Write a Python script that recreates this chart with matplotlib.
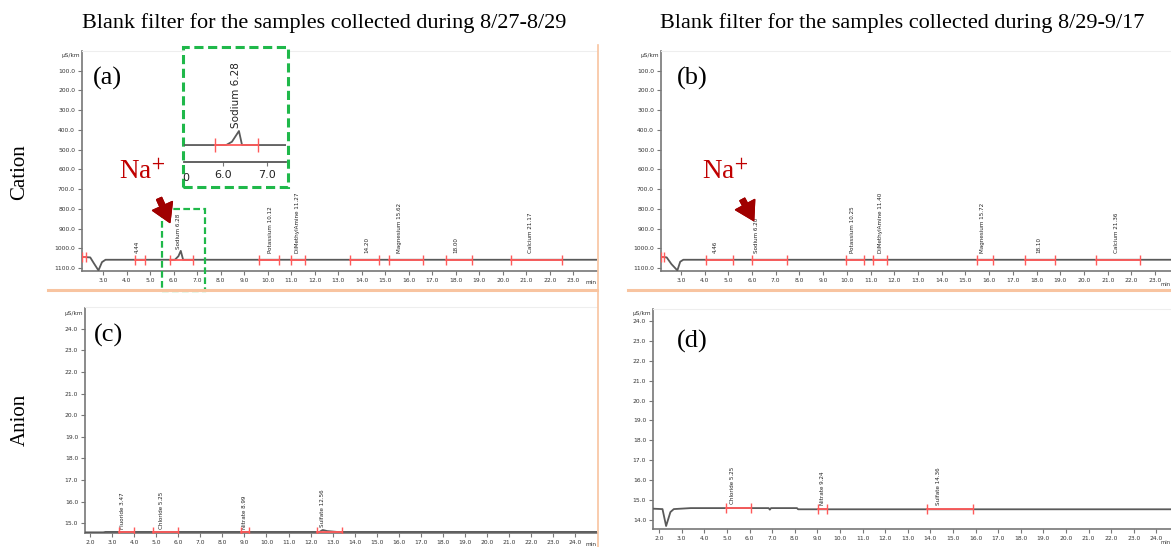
import matplotlib.pyplot as plt
import numpy as np
from matplotlib.patches import Rectangle
from matplotlib.lines import Line2D

W, H = 1171, 547

# ---- data ----
titles = ['Blank filter for the samples collected during 8/27-8/29',
          'Blank filter for the samples collected during 8/29-9/17']

# (a) cation 8/27-8/29
a_time = [2.1, 2.45, 2.6, 2.8, 2.95, 3.1, 6.05, 6.2, 6.3, 6.4, 24.0]
a_signal = [1044, 1046, 1075, 1112, 1070, 1058, 1058, 1040, 1013, 1058, 1058]
a_peaks = ['4.44', 'Sodium 6.28', 'Potassium 10.12', 'DiMethylAmine 11.27',
           '14.20', 'Magnesium 15.62', '18.00', 'Calcium 21.17']
a_peak_time = [4.44, 6.2, 10.12, 11.27, 14.20, 15.62, 18.00, 21.17]
a_seg_start = [2.1, 4.36, 5.85, 9.62, 10.98, 13.49, 15.14, 17.56, 20.33]
a_seg_end = [2.27, 4.78, 6.82, 10.47, 11.58, 14.72, 16.59, 18.67, 22.5]

# (b) cation 8/29-9/17
b_time = [2.16, 2.4, 2.6, 2.85, 2.97, 3.1, 23.7]
b_signal = [1044, 1046, 1080, 1112, 1068, 1058, 1058]
b_peaks = ['4.46', 'Sodium 6.20', 'Potassium 10.25', 'DiMethylAmine 11.40',
           'Magnesium 15.72', '18.10', 'Calcium 21.36']
b_peak_time = [4.46, 6.20, 10.25, 11.40, 15.72, 18.10, 21.36]
b_seg_start = [2.16, 4.05, 6.0, 9.96, 11.1, 15.5, 17.5, 20.5]
b_seg_end = [2.3, 5.2, 7.47, 10.72, 11.69, 16.17, 18.78, 22.37]

# (c) anion 8/27-8/29
c_time = [1.77, 2.6, 2.7, 12.4, 12.55, 12.75, 13.2, 25.0]
c_signal = [14.57, 14.57, 14.59, 14.59, 14.68, 14.63, 14.59, 14.59]
c_peaks = ['Fluoride 3.47', 'Chloride 5.25', 'Nitrate 8.99', 'Sulfate 12.56']
c_peak_time = [3.47, 5.25, 8.99, 12.56]
c_seg_start = [3.31, 4.86, 8.85, 12.3]
c_seg_end = [4.0, 6.0, 9.2, 13.43]

# (d) anion 8/29-9/17
d_time = [1.73, 2.15, 2.31, 2.5, 2.65, 3.4, 6.85, 6.9, 6.95, 8.1, 8.15, 24.65]
d_signal = [14.57, 14.55, 13.7, 14.4, 14.55, 14.6, 14.6, 14.52, 14.6, 14.6, 14.54, 14.54]
d_peaks = ['Chloride 5.25', 'Nitrate 9.24', 'Sulfate 14.36']
d_peak_time = [5.25, 9.24, 14.36]
d_seg_start = [4.97, 9.03, 13.85]
d_seg_end = [6.07, 9.43, 15.9]

# zoomed sodium peak (inset of panel a)
inset_time = [5.11, 6.07, 6.2, 6.36, 6.43, 7.43]
inset_signal = [1055, 1055, 1045, 1012, 1055, 1055]

plt.rcParams['mathtext.fontset'] = 'stix'
fig = plt.figure(figsize=(W / 100, H / 100), dpi=100)
serif = 'Liberation Serif'
trace_col = '#5a5a5a'
red = '#ff5a5a'
axis_col = '#777777'
green = '#1fb84a'
orange = '#f8c4a0'


def px_axes(l, t, r, b):
    return fig.add_axes([l / W, 1 - b / H, (r - l) / W, (b - t) / H])


def ftext(x, y, s, **kw):
    return fig.text(x / W, 1 - y / H, s, **kw)


def chrom(ax, time, signal, xlim, ylim, xticks, yticks, peaks, peak_time,
          seg_start, seg_end, lab_off):
    ax.plot(time, signal, color=trace_col, lw=1.3, zorder=3)
    for s, e in zip(seg_start, seg_end):
        ys = np.interp([s, e], time, signal)
        ax.plot([s, e], ys, color=red, lw=1.3, zorder=4)
        ax.plot([s, e], ys, ls='none', marker='|', ms=7, mew=1.0, color=red, zorder=4)
    for name, t in zip(peaks, peak_time):
        yb = np.interp(t, time, signal)
        ax.annotate(name, (t, yb), xytext=(0, lab_off), textcoords='offset points',
                    rotation=90, ha='center', va='bottom', fontsize=4.1, color='#222222')
    ax.set_xlim(*xlim)
    ax.set_ylim(*ylim)
    ax.set_xticks(xticks)
    ax.set_xticklabels([f'{v:.1f}' for v in xticks])
    ax.set_yticks(yticks)
    ax.set_yticklabels([f'{v:.1f}' for v in yticks])
    ax.tick_params(labelsize=4.3, labelcolor='#333333', color=axis_col,
                   length=3, width=0.8, pad=2)
    for sp in ['top', 'right']:
        ax.spines[sp].set_visible(False)
    for sp in ['left', 'bottom']:
        ax.spines[sp].set_color(axis_col)
        ax.spines[sp].set_linewidth(1.2)
    ax.patch.set_alpha(0)


cat_ticks_y = [100, 200, 300, 400, 500, 600, 700, 800, 900, 1000, 1100]

ax_a = px_axes(82, 51, 597, 271)
chrom(ax_a, a_time, a_signal, (2.1, 24.0), (1115, 0), list(range(3, 24)),
      cat_ticks_y, a_peaks, a_peak_time, a_seg_start, a_seg_end, 5)

ax_b = px_axes(661, 51, 1171, 271)
chrom(ax_b, b_time, b_signal, (2.16, 23.67), (1115, 0), list(range(3, 24)),
      cat_ticks_y, b_peaks, b_peak_time, b_seg_start, b_seg_end, 5)

ax_c = px_axes(85, 308, 597, 533)
chrom(ax_c, c_time, c_signal, (1.77, 24.99), (14.54, 24.97), list(range(2, 25)),
      list(range(15, 25)), c_peaks, c_peak_time, c_seg_start, c_seg_end, 2)

ax_d = px_axes(653, 309, 1171, 529)
chrom(ax_d, d_time, d_signal, (1.73, 24.65), (13.55, 24.6), list(range(2, 25)),
      list(range(14, 25)), d_peaks, d_peak_time, d_seg_start, d_seg_end, 3)

# unit labels
for (x, y) in [(80, 56), (659, 56), (83, 313), (651, 314)]:
    ftext(x, y, 'µS/km', fontsize=4.2, color='#333333', ha='right', va='center')
for (x, y, fs) in [(597, 282, 4.2), (1171, 285, 3.8), (597, 544, 4.2), (1171, 543, 3.8)]:
    ftext(x, y, 'min', fontsize=fs, color='#333333', ha='right', va='center')

# faint top lines of the instrument windows
for (l, r, y) in [(82, 597, 51), (661, 1171, 51), (85, 597, 307), (653, 1171, 309)]:
    fig.add_artist(Line2D([l / W, r / W], [1 - y / H, 1 - y / H], color='#eeeeee', lw=0.8))

# orange window borders
for (l, r, y) in [(48, 597, 290), (628, 1171, 290)]:
    fig.add_artist(Line2D([l / W, r / W], [1 - y / H, 1 - y / H], color=orange, lw=2.2))
fig.add_artist(Line2D([598 / W, 598 / W], [1 - 45 / H, 0], color=orange, lw=1.2))

# panel letters
for (x, y, s) in [(93, 78, '(a)'), (677, 78, '(b)'), (94, 335, '(c)'), (677, 341, '(d)')]:
    ftext(x, y, s, fontsize=19, family=serif, ha='left', va='center')

# titles and row labels
ftext(324, 23, titles[0], fontsize=16, family=serif, ha='center', va='center')
ftext(902, 23, titles[1], fontsize=16, family=serif, ha='center', va='center')
ftext(20, 172, 'Cation', fontsize=15, family=serif, rotation=90, ha='center', va='center')
ftext(20, 420, 'Anion', fontsize=15, family=serif, rotation=90, ha='center', va='center')

# Na+ annotations
for (tx, ty, x0, y0, x1, y1) in [(142, 172, 158, 196, 171, 225), (725, 172, 741, 197, 755, 223)]:
    ftext(tx, ty, 'Na$^{+}$', fontsize=19.5, family=serif, color='#c00000',
          ha='center', va='center')
    fig.add_artist(plt.annotate('', xy=(x1, H - y1), xytext=(x0, H - y0),
                                xycoords='figure pixels', textcoords='figure pixels',
                                arrowprops=dict(arrowstyle='simple,head_width=1.2,head_length=1.0,tail_width=0.3',
                                                color='#a00000', mutation_scale=13)))

# dashed box round the sodium peak in (a)
fig.add_artist(Rectangle((162 / W, 1 - 291 / H), 43 / W, 82 / H, transform=fig.transFigure,
                         fill=False, ec=green, lw=1.6, ls=(0, (3, 1.5))))

# inset
fig.add_artist(Rectangle((183 / W, 1 - 187 / H), 105 / W, 140 / H, transform=fig.transFigure,
                         fill=True, fc='white', ec=green, lw=2.2, ls=(0, (3, 1.5)), zorder=5))
ax_i = px_axes(184, 100, 286, 162)
ax_i.set_zorder(6)
ax_i.plot(inset_time, inset_signal, color=trace_col, lw=1.3)
ax_i.plot([5.82, 6.8], [1055, 1055], color=red, lw=1.3)
ax_i.plot([5.82, 6.8], [1055, 1055], ls='none', marker='|', ms=10, mew=1.0, color=red)
ax_i.annotate('Sodium 6.28', (6.3, 1012), xytext=(0, 2), textcoords='offset points',
              rotation=90, ha='center', va='bottom', fontsize=7.5, color='#222222')
ax_i.set_xlim(5.11, 7.43)
ax_i.set_ylim(1107, 917)
ax_i.set_xticks([6.0, 7.0])
ax_i.set_xticklabels(['6.0', '7.0'])
ax_i.set_yticks([])
ax_i.tick_params(labelsize=8, labelcolor='#222222', color=axis_col, length=3, pad=3)
for sp in ['top', 'right', 'left']:
    ax_i.spines[sp].set_visible(False)
ax_i.spines['bottom'].set_color('#555555')
ax_i.spines['bottom'].set_linewidth(1.3)
ax_i.patch.set_alpha(0)
t0 = ftext(186, 178, '0', fontsize=8, color='#222222', ha='center', va='center')
t0.set_zorder(7)

fig.savefig('out.png', dpi=100)
